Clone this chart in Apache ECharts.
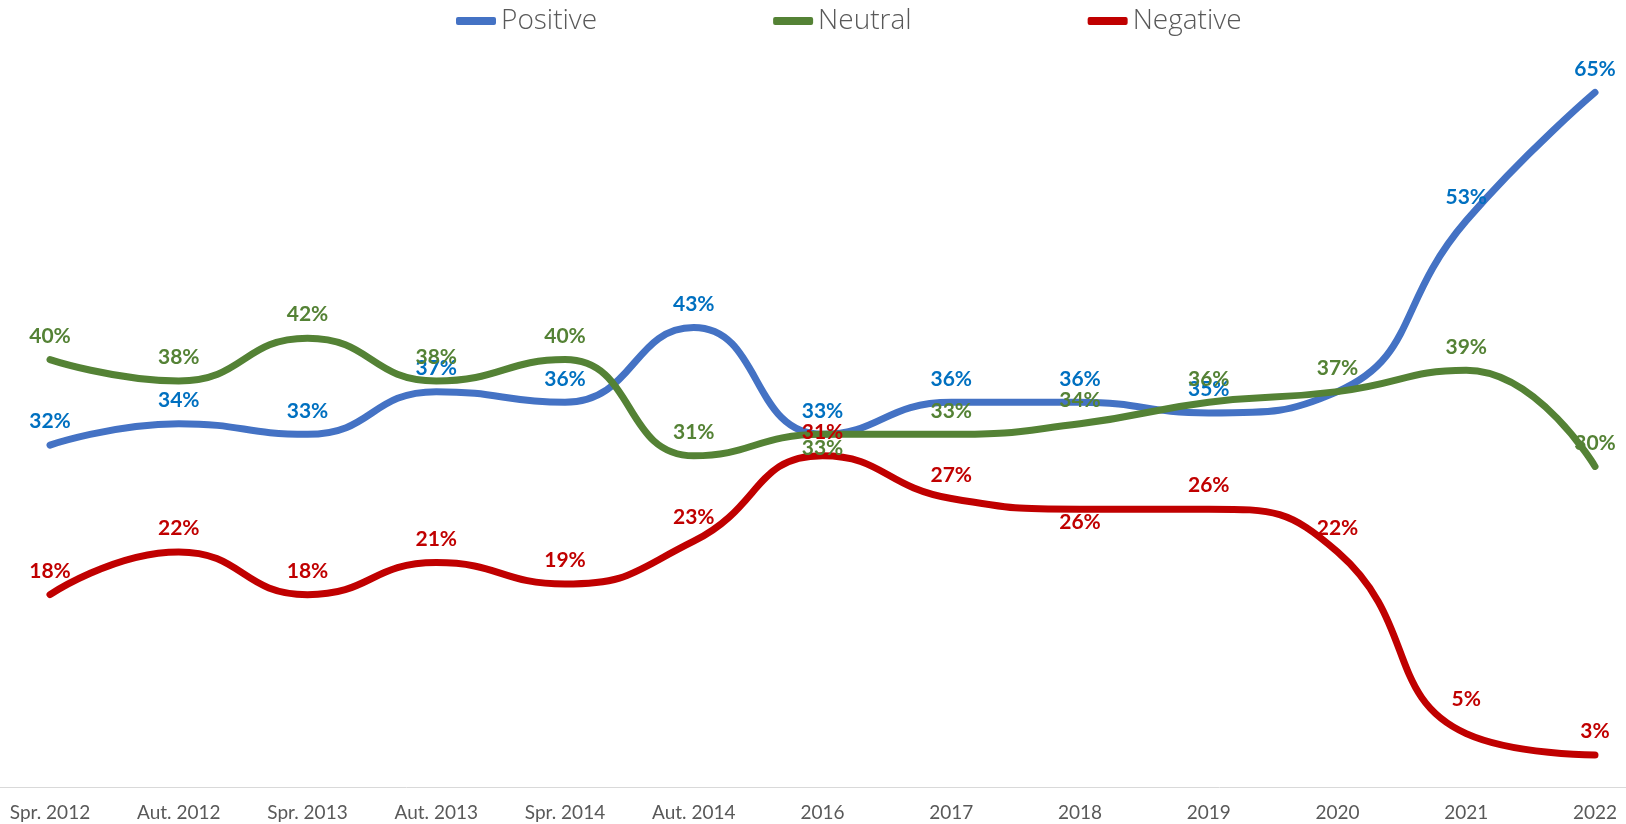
<!DOCTYPE html>
<html>
<head>
<meta charset="utf-8">
<script src="https://cdn.jsdelivr.net/npm/echarts@6/dist/echarts.min.js"></script>
<style>
    html, body { margin: 0; padding: 0; background: #fff; }
    #chart { width: 1626px; height: 824px; }
</style>
</head>
<body>
<div id="chart"></div>
<script>
// categories and values (%)
var categories = ['Spr. 2012', 'Aut. 2012', 'Spr. 2013', 'Aut. 2013', 'Spr. 2014', 'Aut. 2014',
    '2016', '2017', '2018', '2019', '2020', '2021', '2022']
var positive = [32, 34, 33, 37, 36, 43, 33, 36, 36, 35, 37, 53, 65]
var neutral = [40, 38, 42, 38, 40, 31, 33, 33, 34, 36, 37, 39, 30]
var negative = [18, 22, 18, 21, 19, 23, 31, 27, 26, 26, 22, 5, 3]

// points whose label sits under the line, has no label, or sits higher
var positiveNoLabel = [10]
var neutralBelow = [6]
var negativeBelow = [8]
var negativeRaised = [11]

function points(values, below, hidden, raised) {
    return values.map(function (v, i) {
        var item = { value: v }
        if (hidden && hidden.indexOf(i) > -1) {
            item.label = { show: false }
        } else if (below && below.indexOf(i) > -1) {
            item.label = { position: 'bottom', distance: 3 }
        } else if (raised && raised.indexOf(i) > -1) {
            item.label = { distance: 24 }
        }
        return item
    })
}

function makeSeries(name, values, lineColor, labelColor, below, hidden, raised) {
    return {
        name: name,
        type: 'line',
        smooth: 0.5,
        symbol: 'circle',
        symbolSize: 0,
        showSymbol: true,
        data: points(values, below, hidden, raised),
        itemStyle: { color: lineColor },
        lineStyle: { color: lineColor, width: 7, cap: 'round', join: 'round' },
        label: {
            show: true,
            position: 'top',
            distance: 13,
            formatter: '{c}%',
            color: labelColor,
            fontFamily: 'Lato',
            fontWeight: 'bold',
            fontSize: 21
        },
        emphasis: { disabled: true }
    }
}

var chart = echarts.init(document.getElementById('chart'))

var option = {
    animation: false,
    legend: {
        top: 2,
        left: 451,
        itemGap: 176,
        itemWidth: 40,
        itemHeight: 8,
        icon: 'roundRect',
        textStyle: {
            fontFamily: 'Open Sans',
            fontWeight: 300,
            fontSize: 28,
            color: '#595959'
        },
        data: ['Positive', 'Neutral', 'Negative']
    },
    grid: {
        left: 50,
        right: 31,
        top: 39,
        bottom: 37
    },
    xAxis: {
        type: 'category',
        boundaryGap: false,
        data: categories,
        axisLine: { show: false },
        axisTick: { show: false },
        axisLabel: {
            margin: 16,
            fontFamily: 'Lato',
            fontSize: 19,
            color: '#595959'
        }
    },
    yAxis: {
        type: 'value',
        min: 0,
        max: 70,
        show: false,
        splitLine: { show: false }
    },
    series: [
        makeSeries('Positive', positive, '#4472C4', '#0070C0', null, positiveNoLabel, null),
        makeSeries('Neutral', neutral, '#548235', '#548235', neutralBelow, null, null),
        makeSeries('Negative', negative, '#C00000', '#C00000', negativeBelow, null, negativeRaised)
    ]
}

chart.setOption(option)

// the baseline runs across the whole width, as in the plot area of the original
var baseY = Math.round(chart.convertToPixel({ yAxisIndex: 0 }, 0)) + 0.5
chart.setOption({
    graphic: [{
        type: 'line',
        z: 0,
        shape: { x1: 0, y1: baseY, x2: chart.getWidth(), y2: baseY },
        style: { stroke: '#d9d9d9', lineWidth: 1 }
    }]
})
</script>
</body>
</html>
